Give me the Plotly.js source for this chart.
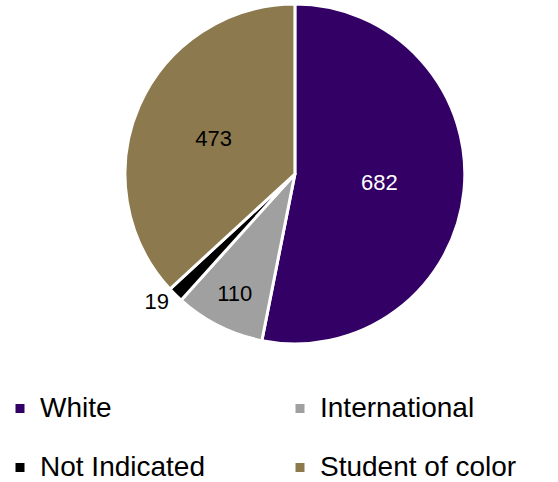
<!DOCTYPE html>
<html>
<head>
<meta charset="utf-8">
<script src="https://cdn.plot.ly/plotly-3.0.1.min.js"></script>
<style>html,body{margin:0;padding:0;background:#fff;}#chart{width:558px;height:482px;}</style>
</head>
<body>
<div id="chart"></div>
<script>
var categories = ["White", "International", "Not Indicated", "Student of color"];
var counts = [682, 110, 19, 473];
var sliceColors = ["#330066", "#a0a0a0", "#000000", "#8c7a4e"];
var labelColors = ["#ffffff", "#000000", "#000000", "#000000"];
var labelPositions = ["inside", "inside", "outside", "inside"];

// Legend is laid out in two columns; the first row gets a spacer line
// so that the rows are spaced apart like the reference.
var legendLabels = categories.map(function (c, i) {
  var t = '<span style="font-size:28px">' + c + '</span>';
  return i < 2 ? t + '<br> ' : t;
});

var trace = {
  type: "pie",
  labels: legendLabels,
  values: counts,
  sort: false,
  direction: "clockwise",
  rotation: 0,
  textinfo: "value",
  textposition: labelPositions,
  insidetextorientation: "horizontal",
  textfont: { family: "Liberation Sans, Arial, sans-serif", size: 22, color: labelColors },
  outsidetextfont: { family: "Liberation Sans, Arial, sans-serif", size: 22, color: "#000000" },
  marker: { colors: sliceColors, line: { color: "#ffffff", width: 3 } },
  domain: { x: [0.224, 0.833], y: [0.286, 0.992] },
  hoverinfo: "value"
};

var layout = {
  width: 558,
  height: 482,
  margin: { l: 0, r: 0, t: 0, b: 0, autoexpand: false },
  paper_bgcolor: "#ffffff",
  showlegend: true,
  legend: {
    orientation: "h",
    x: 0,
    xanchor: "left",
    y: 0.195,
    yanchor: "top",
    entrywidth: 235,
    entrywidthmode: "pixels",
    valign: "top",
    itemclick: false,
    font: { family: "Liberation Sans, Arial, sans-serif", size: 21.5, color: "#000000" }
  }
};

Plotly.newPlot("chart", [trace], layout, { displayModeBar: false, staticPlot: true });
</script>
</body>
</html>
